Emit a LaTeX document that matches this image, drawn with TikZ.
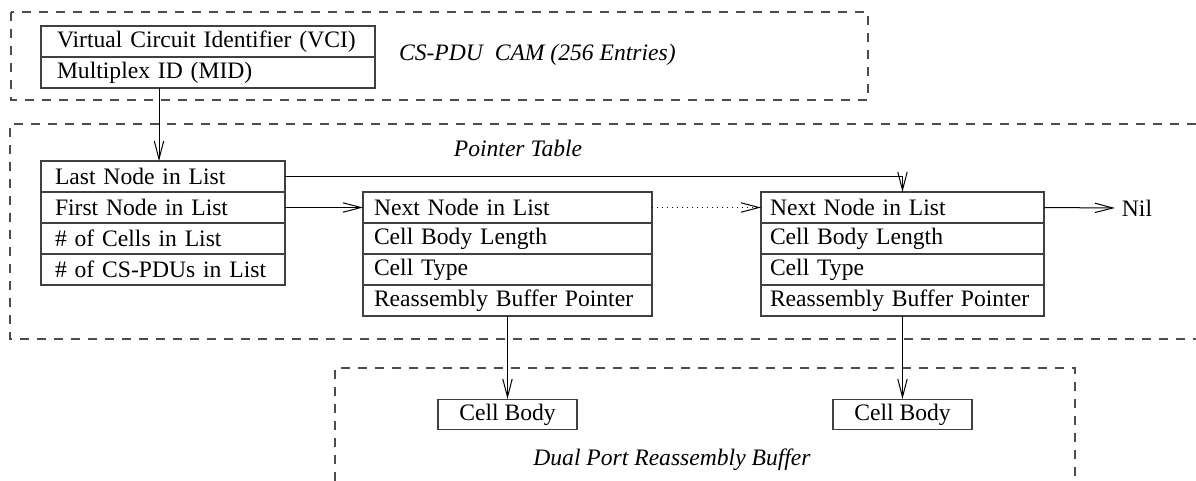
\documentclass[tikz,border=0pt]{standalone}
\usepackage{fontspec}
\setmainfont{Liberation Serif}
\usepackage{tikz}
\usetikzlibrary{arrows.meta,positioning}

\begin{document}
\begin{tikzpicture}[
    x=0.5pt, y=-0.5pt,
    font=\fontsize{11.8}{14}\selectfont,
    >={Straight Barb[length=9pt,width=4.7pt]},
    field/.style={draw=black!75, line width=0.7pt, outer sep=0pt, inner ysep=0pt, minimum height=15.5pt, align=left, anchor=north west},
    camrow/.style={field, text width=151pt, inner xsep=8pt},
    headrow/.style={field, text width=108pt, inner xsep=7pt},
    recrow/.style={field, text width=133.5pt, inner xsep=5.5pt},
    cellbody/.style={draw=black!75, line width=0.7pt, minimum width=69.5pt, minimum height=15pt, inner sep=0pt},
    region/.style={draw=black!70, line width=0.6pt, dash pattern=on 4.5pt off 4pt},
    title/.style={font=\fontsize{11.8}{14}\selectfont\itshape},
    ptr/.style={->, line width=0.5pt}
]
\useasboundingbox (0,0) rectangle (1196,481);

% Dashed regions
\draw[region] (11,12) rectangle (868,100);
\draw[region] (1196,124) -- (10,124) -- (10,339) -- (1196,339);
\draw[region] (335,481) -- (335,368) -- (1075,368) -- (1075,481);

% CS-PDU CAM
\node[camrow] (cam1) at (41,26) {Virtual Circuit Identifier (VCI)};
\node[camrow, below=0pt of cam1] (cam2) {Multiplex ID (MID)};
\node[title, anchor=west] (camlabel) at (392,55) {CS-PDU\ \ CAM (256 Entries)};

% Pointer table
\node[title] (ptrlabel) at (518,148) {Pointer Table};
\node[headrow] (h1) at (41,161) {Last Node in List};
\node[headrow, below=0pt of h1] (h2) {First Node in List};
\node[headrow, below=0pt of h2] (h3) {\# of Cells in List};
\node[headrow, below=0pt of h3] (h4) {\# of CS-PDUs in List};

% List nodes
\node[recrow] (n1a) at (363,192) {Next Node in List};
\node[recrow, below=0pt of n1a] (n1b) {Cell Body Length};
\node[recrow, below=0pt of n1b] (n1c) {Cell Type};
\node[recrow, below=0pt of n1c] (n1d) {Reassembly Buffer Pointer};

\node[recrow, text width=132.5pt, inner xsep=4.5pt] (n2a) at (761,192) {Next Node in List};
\node[recrow, text width=132.5pt, inner xsep=4.5pt, below=0pt of n2a] (n2b) {Cell Body Length};
\node[recrow, text width=132.5pt, inner xsep=4.5pt, below=0pt of n2b] (n2c) {Cell Type};
\node[recrow, text width=132.5pt, inner xsep=4.5pt, below=0pt of n2c] (n2d) {Reassembly Buffer Pointer};

\node (nil) at (1137,208) {Nil};

% Reassembly buffer
\node[cellbody, below=41.5pt of n1d] (cb1) {Cell Body};
\node[cellbody, below=41.5pt of n2d] (cb2) {Cell Body};
\node[title] (buflabel) at (672,460) {Dual Port Reassembly Buffer};

% Pointers
\draw[ptr] ([xshift=-2pt]h1.north |- cam2.south) -- ([xshift=-2pt]h1.north);
\draw[ptr] (h1.east) -| (n2a.north);
\draw[ptr] (h2.east) -- (n1a.west);
\draw[ptr, dotted] (n1a.east) -- (n2a.west);
\draw[ptr] (n2a.east) -- (nil.west);
\draw[ptr] (n1d.south) -- (cb1.north);
\draw[ptr] (n2d.south) -- (cb2.north);

\end{tikzpicture}
\end{document}
